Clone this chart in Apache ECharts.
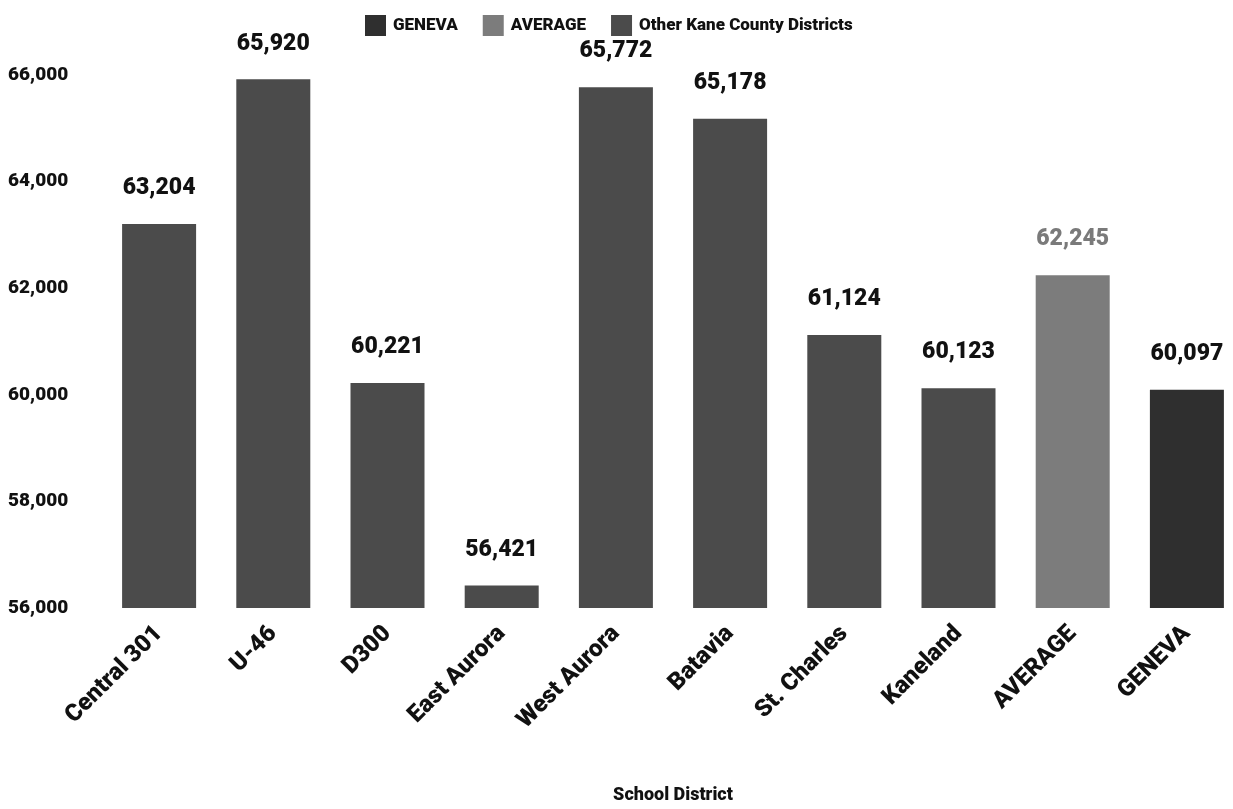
<!DOCTYPE html>
<html><head><meta charset="utf-8">
<script src="https://cdn.jsdelivr.net/npm/echarts@6/dist/echarts.min.js"></script>
<style>html,body{margin:0;padding:0;background:#fff}#c{width:1233px;height:809px}</style>
</head><body><div id="c"></div>
<script>
const categories = ['Central 301','U-46','D300','East Aurora','West Aurora','Batavia','St. Charles','Kaneland','AVERAGE','GENEVA'];
const values = [63204, 65920, 60221, 56421, 65772, 65178, 61124, 60123, 62245, 60097];
const groups = ['Other','Other','Other','Other','Other','Other','Other','Other','AVERAGE','GENEVA'];
const seriesNames = ['GENEVA','AVERAGE','Other Kane County Districts'];
const groupKeys = ['GENEVA','AVERAGE','Other'];
const colors = ['#2f2f2f','#7c7c7c','#4b4b4b'];
const labelColors = ['#111','#7a7a7a','#111'];

const fmt = v => v.toLocaleString('en-US');
const chart = echarts.init(document.getElementById('c'));
const series = seriesNames.map((name, i) => ({
  name, type: 'bar', stack: 'all', barWidth: 74,
  itemStyle: { color: colors[i] },
  label: { show: true, position: 'top', distance: 24, fontFamily: 'Roboto', fontWeight: 900, fontSize: 23, color: labelColors[i], formatter: p => fmt(p.value) },
  data: values.map((v, j) => groups[j] === groupKeys[i] ? v : null)
}));
chart.setOption({
  animation: false,
  textStyle: { fontFamily: 'Roboto' },
  legend: {
    top: 10, left: 360, itemWidth: 21, itemHeight: 21, itemGap: 25,
    icon: 'rect',
    textStyle: { fontFamily: 'Roboto', fontWeight: 900, fontSize: 17, color: '#111', padding: [0, 0, 0, 2] },
    data: seriesNames
  },
  grid: { left: 102, right: -11, top: 75, bottom: 201, outerBoundsMode: 'none', containLabel: false },
  xAxis: {
    type: 'category', data: categories,
    axisLine: { show: false }, axisTick: { show: false },
    axisLabel: { rotate: 45, interval: 0, margin: 22, fontFamily: 'Roboto', fontWeight: 900, fontSize: 24, color: '#111' },
    name: 'School District', nameLocation: 'middle', nameGap: 178,
    nameTextStyle: { fontFamily: 'Roboto', fontWeight: 900, fontSize: 18, color: '#111' }
  },
  yAxis: {
    type: 'value', min: 56000, max: 66000, interval: 2000,
    axisLine: { show: false }, axisTick: { show: false }, splitLine: { show: false },
    axisLabel: { margin: 94, align: 'left', fontFamily: 'Roboto', fontWeight: 900, fontSize: 19, color: '#111', formatter: v => fmt(v) }
  },
  series
});
</script></body></html>
